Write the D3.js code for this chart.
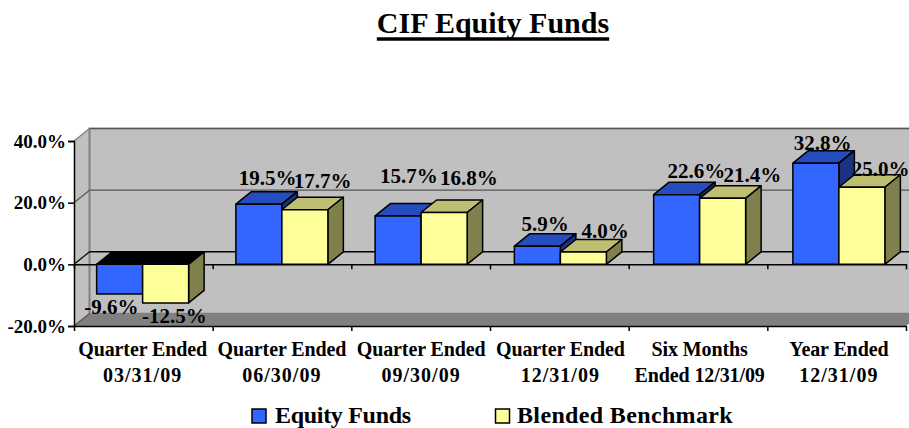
<!DOCTYPE html>
<html>
<head>
<meta charset="utf-8">
<script src="https://cdn.jsdelivr.net/npm/d3@7"></script>
<style>
  html, body { margin: 0; padding: 0; background: #fff; overflow: hidden; }
  text { font-family: "Liberation Serif", serif; font-weight: bold; fill: #000; }
  .domain, .tick line { stroke: #000; stroke-width: 1.5; }
</style>
</head>
<body>
<div id="chart"></div>
<script>
// chart data
var categories = ['q1', 'q2', 'q3', 'q4', 'six', 'year'];
var categoryLines = [
  ['Quarter Ended', '03/31/09'],
  ['Quarter Ended', '06/30/09'],
  ['Quarter Ended', '09/30/09'],
  ['Quarter Ended', '12/31/09'],
  ['Six Months', 'Ended 12/31/09'],
  ['Year Ended', '12/31/09'],
];
var seriesNames = ['Equity Funds', 'Blended Benchmark'];
var equityFunds = [-9.6, 19.5, 15.7, 5.9, 22.6, 32.8];
var blendedBenchmark = [-12.5, 17.7, 16.8, 4.0, 21.4, 25.0];
var yTicks = [-20, 0, 20, 40];

// layout
var svgWidth = 909;
var svgHeight = 428;
var plot = { left: 74, right: 906, top: 141, bottom: 326 };
var depth = { x: 15.5, y: -12.5 };

// label nudges, [dx, baseline above bar back edge]
var equityNudge = [[-16, 4], [1, 2], [3, 15], [0, -2], [12, -1], [-1, -4]];
var benchNudge = [[1, 4], [10, 4], [17, 10], [14, -3], [22, -1], [11, -6]];

var styles = [
  { front: '#3366ff', top: '#264dbf', side: '#1a3380' },
  { front: '#ffff99', top: '#bfbf73', side: '#80804d' },
];

var svg = d3
  .select('#chart')
  .append('svg')
  .attr('width', svgWidth)
  .attr('height', svgHeight)
  .style('display', 'block');

// bars step a little wider than the tick spacing in the reference
var x = d3.scaleBand().domain(categories).range([73, 908.5]);
var xSeries = d3
  .scaleBand()
  .domain(seriesNames)
  .range([0, x.bandwidth()])
  .paddingOuter(0.5136);
var y = d3.scaleLinear().domain([-20, 40]).range([plot.bottom, plot.top]);
var xTickScale = d3
  .scaleLinear()
  .domain([0, categories.length])
  .range([plot.left, plot.right]);

function poly(points) {
  return 'M' + points.map((p) => p.join(',')).join('L') + 'Z';
}

// back wall, left wall and floor
var wallTop = y(40);
var wallBottom = y(-20);
svg
  .append('path')
  .attr(
    'd',
    poly([
      [plot.left, wallTop],
      [plot.left + depth.x, wallTop + depth.y],
      [plot.right + depth.x, wallTop + depth.y],
      [plot.right + depth.x, wallBottom + depth.y],
      [plot.right, wallBottom],
      [plot.left, wallBottom],
    ])
  )
  .attr('fill', '#c0c0c0');

svg
  .append('path')
  .attr(
    'd',
    poly([
      [plot.left, wallBottom],
      [plot.left + depth.x, wallBottom + depth.y],
      [plot.right + depth.x, wallBottom + depth.y],
      [plot.right, wallBottom],
    ])
  )
  .attr('fill', '#808080');

// gridlines on the walls
var wallEdge = '#808080';
svg
  .append('path')
  .attr(
    'd',
    `M${plot.left + depth.x},${wallBottom + depth.y}V${wallTop + depth.y}H${plot.right + depth.x}`
  )
  .attr('fill', 'none')
  .attr('stroke', wallEdge)
  .attr('stroke-width', 2);
svg
  .append('line')
  .attr('x1', plot.left + depth.x)
  .attr('x2', plot.right + depth.x)
  .attr('y1', wallBottom + depth.y)
  .attr('y2', wallBottom + depth.y)
  .attr('stroke', wallEdge)
  .attr('stroke-width', 1.5);

yTicks.forEach(function (t) {
  var color = t === 0 ? '#000' : '#555';
  if (t !== -20) {
    svg
      .append('line')
      .attr('x1', plot.left + depth.x)
      .attr('x2', plot.right + depth.x)
      .attr('y1', y(t) + depth.y)
      .attr('y2', y(t) + depth.y)
      .attr('stroke', color)
      .attr('stroke-width', t === 0 ? 1.5 : 1.2);
  }
  svg
    .append('line')
    .attr('x1', plot.left)
    .attr('x2', plot.left + depth.x)
    .attr('y1', y(t))
    .attr('y2', y(t) + depth.y)
    .attr('stroke', t === 40 ? wallEdge : color)
    .attr('stroke-width', 1.2);
});

// axes
var leftAxis = d3
  .axisLeft(y)
  .tickValues(yTicks)
  .tickSize(6)
  .tickPadding(2)
  .tickFormat((d) => d.toFixed(1) + '%');
var leftG = svg
  .append('g')
  .attr('transform', `translate(${plot.left},0)`)
  .call(leftAxis);
leftG.selectAll('text').style('font-size', '19px');

var tickValues = d3.range(categories.length + 1);
[-20, 0].forEach(function (level) {
  svg
    .append('g')
    .attr('transform', `translate(0,${y(level)})`)
    .call(
      d3
        .axisBottom(xTickScale)
        .tickValues(tickValues)
        .tickSize(5)
        .tickSizeOuter(0)
        .tickFormat('')
    );
});

// 3d bars
function drawBar(name, i, value, style) {
  var x0 = x(categories[i]) + xSeries(name);
  var w = xSeries.bandwidth();
  var top = y(Math.max(value, 0));
  var bottom = y(Math.min(value, 0));
  var g = svg.append('g').attr('stroke', '#000').attr('stroke-width', 1.5).attr('stroke-linejoin', 'round');

  g.append('path')
    .attr(
      'd',
      poly([
        [x0, top],
        [x0 + depth.x, top + depth.y],
        [x0 + w + depth.x, top + depth.y],
        [x0 + w, top],
      ])
    )
    .attr('fill', value < 0 ? '#000' : style.top);
  g.append('path')
    .attr(
      'd',
      poly([
        [x0 + w, top],
        [x0 + w + depth.x, top + depth.y],
        [x0 + w + depth.x, bottom + depth.y],
        [x0 + w, bottom],
      ])
    )
    .attr('fill', style.side);
  g.append('rect')
    .attr('x', x0)
    .attr('y', top)
    .attr('width', w)
    .attr('height', bottom - top)
    .attr('fill', style.front);
}

categories.forEach(function (c, i) {
  drawBar(seriesNames[0], i, equityFunds[i], styles[0]);
  drawBar(seriesNames[1], i, blendedBenchmark[i], styles[1]);
});

// data labels go on top of all the bars
function drawLabels(name, values, nudge) {
  svg
    .append('g')
    .selectAll('text')
    .data(values)
    .enter()
    .append('text')
    .attr('text-anchor', 'middle')
    .style('font-size', '21px')
    .attr('x', (d, i) => x(categories[i]) + xSeries(name) + xSeries.bandwidth() / 2 + depth.x / 2 + nudge[i][0])
    .attr('y', (d, i) => (d < 0 ? y(d) + 24 - nudge[i][1] : y(d) + depth.y - 5 - nudge[i][1]))
    .text((d) => d.toFixed(1) + '%');
}
drawLabels(seriesNames[0], equityFunds, equityNudge);
drawLabels(seriesNames[1], blendedBenchmark, benchNudge);

// category labels, the date lines are spaced wider in the reference
categoryLines.forEach(function (lines, i) {
  lines.forEach(function (line, j) {
    svg
      .append('text')
      .attr('x', x(categories[i]) + x.bandwidth() / 2)
      .attr('y', 356 + j * 26)
      .attr('text-anchor', 'middle')
      .style('font-size', '20px')
      .style('letter-spacing', /^\d/.test(line) ? '1px' : '-0.1px')
      .text(line);
  });
});

// title, underline drawn by hand because it is thicker than the font's own
var title = svg
  .append('text')
  .attr('x', 493)
  .attr('y', 33)
  .attr('text-anchor', 'middle')
  .style('font-size', '30px')
  .text('CIF Equity Funds');
var titleBox = title.node().getBBox();
svg
  .append('line')
  .attr('x1', titleBox.x)
  .attr('x2', titleBox.x + titleBox.width)
  .attr('y1', 39)
  .attr('y2', 39)
  .attr('stroke', '#000')
  .attr('stroke-width', 3.5);

// legend
var legendX = [252, 495.5];
var legendTextX = [275, 517];
var legendSpacing = ['-0.3px', '0.35px'];
seriesNames.forEach(function (name, i) {
  svg
    .append('rect')
    .attr('x', legendX[i])
    .attr('y', 409)
    .attr('width', 14)
    .attr('height', 14)
    .attr('fill', styles[i].front)
    .attr('stroke', '#000')
    .attr('stroke-width', 1.5);
  svg
    .append('text')
    .attr('x', legendTextX[i])
    .attr('y', 423)
    .style('font-size', '24px')
    .style('letter-spacing', legendSpacing[i])
    .text(name);
});
</script>
</body>
</html>
